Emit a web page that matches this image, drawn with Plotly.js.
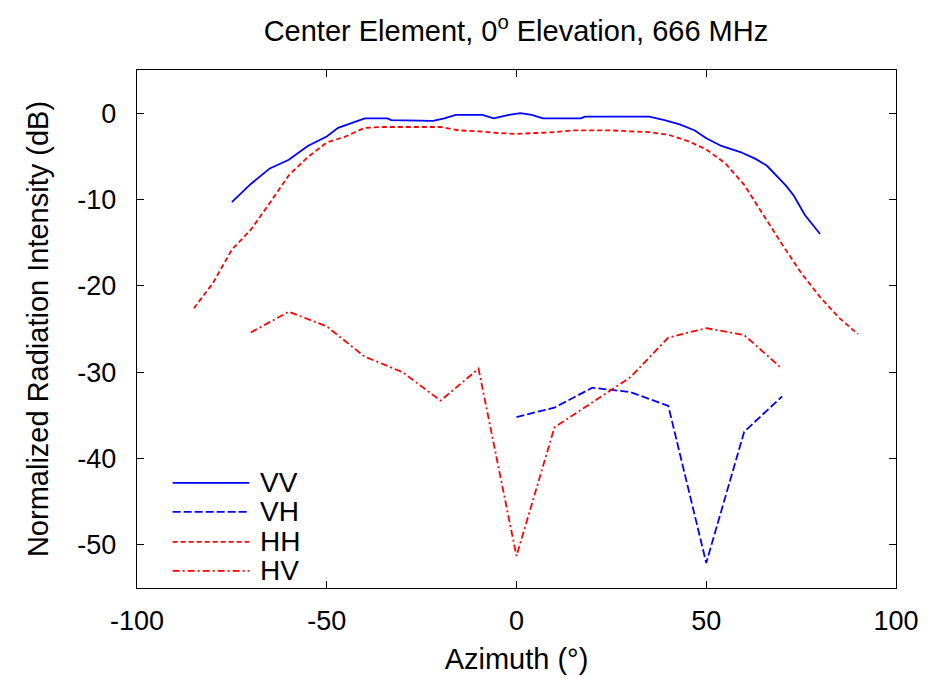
<!DOCTYPE html>
<html>
<head>
<meta charset="utf-8">
<script src="https://cdn.plot.ly/plotly-3.0.1.min.js"></script>
<style>html,body{margin:0;padding:0;background:#fff;}#chart{width:933px;height:679px;}</style>
</head>
<body>
<div id="chart"></div>
<script>
// Azimuth (deg) and normalized radiation intensity (dB) for each polarisation
const vvAz = [-75,-70,-65,-60,-55,-50,-47,-42,-40,-34,-33,-22,-19,-16,-9,-6,-2,1,4,7,17,18,35,39,43,47,50,54,59,63,66,71,73,76,80];
const vvDb = [-10.3,-8.2,-6.4,-5.4,-3.8,-2.7,-1.7,-0.9,-0.6,-0.6,-0.8,-0.9,-0.6,-0.2,-0.2,-0.6,-0.2,0,-0.2,-0.6,-0.6,-0.4,-0.4,-0.8,-1.3,-2.0,-2.9,-3.8,-4.5,-5.3,-6.1,-8.4,-9.5,-11.8,-14.0];

const vhAz = [0,10,20,30,40,50,60,70];
const vhDb = [-35.2,-34.1,-31.8,-32.3,-33.9,-52.1,-36.9,-32.8];

const hhAz = [-85,-80,-75,-70,-65,-60,-55,-50,-45,-40,-35,-30,-25,-20,-15,-10,-5,0,5,10,15,20,25,30,35,40,45,50,55,60,65,70,75,80,85,90];
const hhDb = [-22.6,-19.7,-15.8,-13.5,-10.4,-7.2,-5.1,-3.4,-2.7,-1.7,-1.6,-1.6,-1.6,-1.6,-2.0,-2.1,-2.3,-2.4,-2.3,-2.2,-2.0,-2.0,-2.0,-2.1,-2.2,-2.5,-3.2,-4.2,-5.8,-8.3,-11.8,-15.2,-18.5,-21.3,-23.7,-25.6];

const hvAz = [-70,-60,-50,-40,-30,-20,-10,0,10,20,30,40,50,60,70];
const hvDb = [-25.4,-23.0,-24.7,-28.2,-30.0,-33.3,-29.6,-51.3,-36.4,-33.5,-30.6,-26.0,-24.9,-25.7,-29.6];

const seriesNames = ['VV','VH','HH','HV'];
const xTicks = [-100,-50,0,50,100];
const yTicks = [0,-10,-20,-30,-40,-50];

const FONT = 'Liberation Sans, Arial, sans-serif';
const styles = [
  {color:'#0000ff', dash:'solid', width:1.8},
  {color:'#0000ff', dash:'8px,3px', width:1.8},
  {color:'#ff0000', dash:'5px,3px', width:1.8},
  {color:'#ff0000', dash:'7px,3px,2px,3px', width:1.8}
];
const xs = [vvAz, vhAz, hhAz, hvAz];
const ys = [vvDb, vhDb, hhDb, hvDb];

const traces = seriesNames.map((n,i)=>({
  x: xs[i], y: ys[i], name: n, type:'scatter', mode:'lines',
  line: {color: styles[i].color, dash: styles[i].dash, width: styles[i].width},
  showlegend: false
}));

// legend drawn as paper-anchored samples
const legRows = [0.203, 0.147, 0.089, 0.033];
const shapes = seriesNames.map((n,i)=>({
  type:'line', xref:'paper', yref:'paper',
  x0:0.047, x1:0.148, y0:legRows[i], y1:legRows[i],
  line:{color:styles[i].color, dash:styles[i].dash, width:styles[i].width}
}));
const annotations = seriesNames.map((n,i)=>({
  xref:'paper', yref:'paper', x:0.160, y:legRows[i],
  xanchor:'left', yanchor:'middle', text:n, showarrow:false,
  font:{family:FONT, size:28, color:'#000'}
}));

const axisCommon = {
  showgrid:false, zeroline:false, showline:true, linecolor:'#000', linewidth:1.2,
  mirror:'ticks', ticks:'inside', ticklen:7, tickcolor:'#000', tickwidth:1.2,
  tickfont:{family:FONT, size:27, color:'#000'}
};

const layout = {
  width:933, height:679,
  margin:{l:137, r:37, t:70, b:91},
  paper_bgcolor:'#fff', plot_bgcolor:'#fff',
  title:{text:'Center Element, 0<sup>o</sup> Elevation, 666 MHz', font:{family:FONT, size:29, color:'#000'},
         x:0.553, xanchor:'center', y:0.955, yanchor:'middle', yref:'container'},
  xaxis: Object.assign({}, axisCommon, {
    range:[-100,100], tickvals:xTicks, ticktext:xTicks.map(String), ticklabelstandoff:8,
    title:{text:'Azimuth (°)', font:{family:FONT, size:29, color:'#000'}, standoff:14}
  }),
  yaxis: Object.assign({}, axisCommon, {
    range:[-55,5], tickvals:yTicks, ticktext:yTicks.map(String), ticklabelstandoff:14,
    title:{text:'Normalized Radiation Intensity (dB)', font:{family:FONT, size:29, color:'#000'}, standoff:20}
  }),
  shapes: shapes,
  annotations: annotations
};

Plotly.newPlot('chart', traces, layout, {staticPlot:true, displayModeBar:false});
</script>
</body>
</html>
